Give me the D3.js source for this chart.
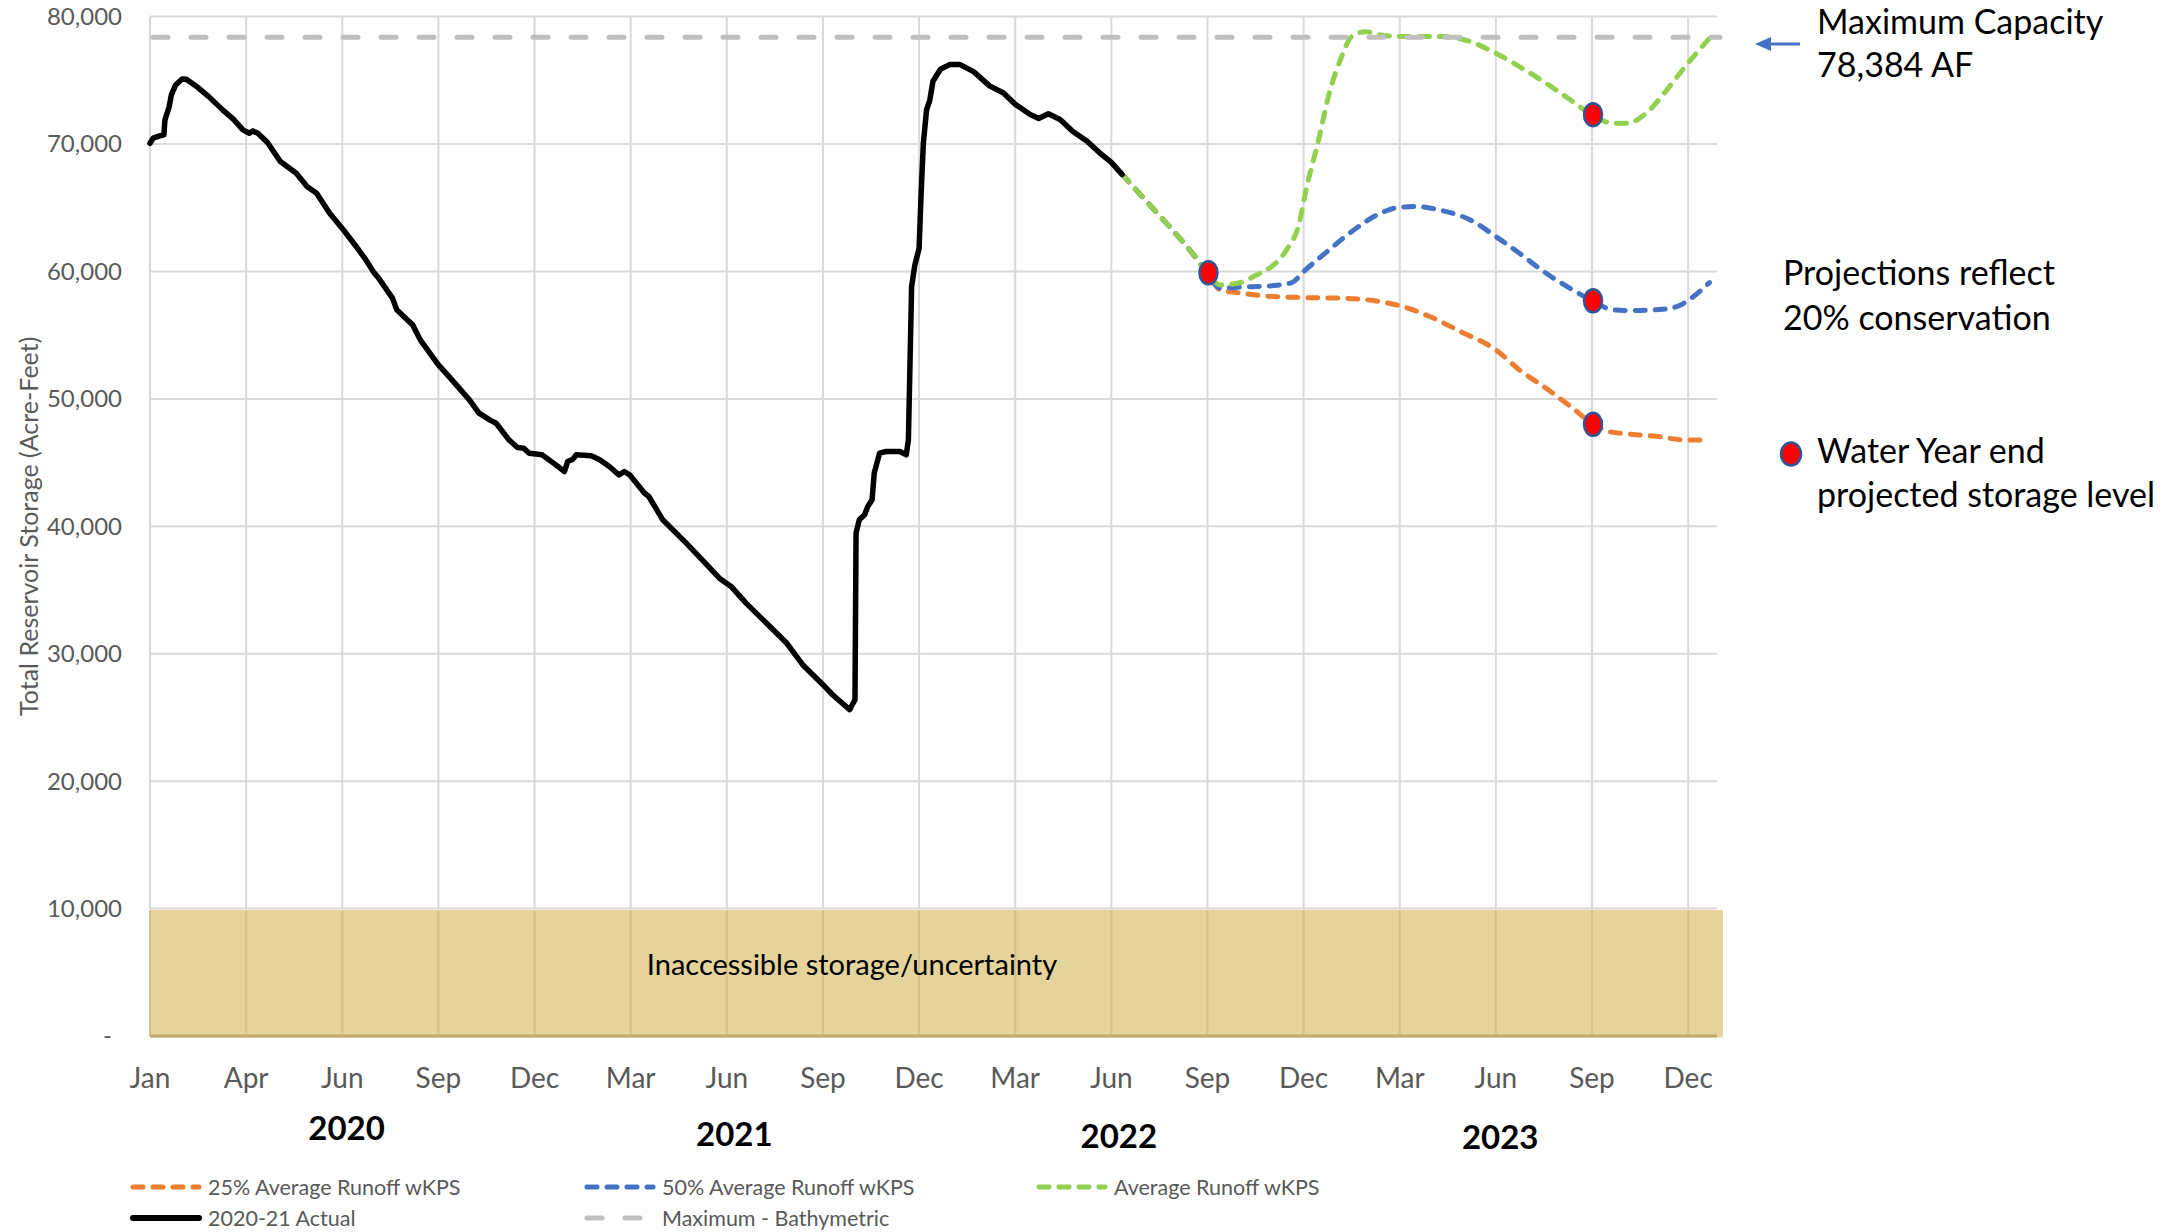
<!DOCTYPE html>
<html><head><meta charset="utf-8">
<script src="https://cdn.jsdelivr.net/npm/d3@7/dist/d3.min.js"></script>
<style>
html,body{margin:0;padding:0;background:#fff;}
svg{display:block;}
text{font-family:Lato,"Open Sans",sans-serif;}
</style></head><body>
<svg id="chart" width="2172" height="1232"></svg>
<script>
// ---------------- DATA ----------------
const axisStart = "2020-01-02";
const axisEnd = "2024-01-08";
const tickDates = ["2020-01-02","2020-04-01","2020-06-30","2020-09-28","2020-12-27","2021-03-27","2021-06-25",
  "2021-09-23","2021-12-22","2022-03-22","2022-06-20","2022-09-18","2022-12-17","2023-03-17","2023-06-15",
  "2023-09-13","2023-12-12"];
const yTicks = [0,10000,20000,30000,40000,50000,60000,70000,80000];
const yearLabels = ["2020","2021","2022","2023"];
const yearLabelDates = ["2020-07-04","2021-07-02","2022-06-27","2023-06-19"];

const actual = [
["2020-01-02",70060],["2020-01-05",70460],["2020-01-11",70640],["2020-01-15",70720],["2020-01-16",71900],
["2020-01-20",72940],["2020-01-22",73860],["2020-01-26",74640],["2020-02-01",75110],["2020-02-05",75080],
["2020-02-14",74560],["2020-02-26",73720],["2020-03-10",72680],["2020-03-20",71950],["2020-03-29",71110],
["2020-04-04",70850],["2020-04-07",71030],["2020-04-12",70850],["2020-04-21",70120],["2020-05-03",68630],
["2020-05-18",67710],["2020-05-28",66670],["2020-06-06",66140],["2020-06-18",64580],["2020-07-01",63270],
["2020-07-13",61960],["2020-07-22",60920],["2020-07-30",59870],["2020-08-03",59480],["2020-08-16",57910],
["2020-08-20",56990],["2020-09-04",55800],["2020-09-11",54630],["2020-09-28",52670],["2020-10-08",51750],
["2020-10-27",49920],["2020-11-05",48880],["2020-11-15",48350],["2020-11-21",48090],["2020-12-03",46780],
["2020-12-11",46180],["2020-12-17",46130],["2020-12-22",45740],["2021-01-03",45610],["2021-01-16",44820],
["2021-01-24",44300],["2021-01-27",45080],["2021-02-01",45270],["2021-02-04",45610],["2021-02-18",45530],
["2021-02-26",45220],["2021-03-07",44690],["2021-03-16",44040],["2021-03-21",44300],["2021-03-26",44040],
["2021-04-09",42600],["2021-04-13",42340],["2021-04-26",40510],["2021-05-18",38680],["2021-06-02",37370],
["2021-06-18",35930],["2021-06-29",35280],["2021-07-13",33970],["2021-08-01",32410],["2021-08-20",30840],
["2021-09-04",29140],["2021-09-23",27570],["2021-10-02",26780],["2021-10-18",25610],["2021-10-23",26390],
["2021-10-24",39460],["2021-10-27",40510],["2021-11-01",40900],["2021-11-04",41560],["2021-11-08",42080],
["2021-11-10",44170],["2021-11-15",45740],["2021-11-21",45870],["2021-12-04",45870],["2021-12-10",45610],
["2021-12-12",46780],["2021-12-15",58800],["2021-12-18",60490],["2021-12-22",61800],["2021-12-24",66300],
["2021-12-26",70060],["2021-12-29",72680],["2022-01-01",73430],["2022-01-04",74930],["2022-01-11",75870],
["2022-01-20",76250],["2022-01-29",76250],["2022-02-11",75680],["2022-02-26",74560],["2022-03-11",74000],
["2022-03-22",73130],["2022-04-05",72310],["2022-04-13",72010],["2022-04-22",72380],["2022-05-03",71930],
["2022-05-15",70990],["2022-05-28",70240],["2022-06-09",69310],["2022-06-20",68560],["2022-06-30",67620]
];

const proj25 = [
["2022-06-30",67620],["2022-07-16",66140],["2022-08-02",64570],["2022-08-19",63000],["2022-09-05",61300],
["2022-09-18",59860],["2022-09-30",58550],["2022-10-16",58340],["2022-11-11",58080],["2022-12-17",57950],
["2023-01-21",57900],["2023-02-27",57630],["2023-03-20",57240],["2023-04-14",56460],["2023-05-13",55280],
["2023-06-15",53840],["2023-07-07",52270],["2023-08-01",50830],["2023-08-26",49260],["2023-09-13",48090],
["2023-09-29",47430],["2023-10-20",47220],["2023-11-14",47040],["2023-12-09",46780],["2024-01-01",46780]
];
const proj50 = [
["2022-06-30",67620],["2022-07-16",66140],["2022-08-02",64570],["2022-08-19",63000],["2022-09-05",61300],
["2022-09-18",59860],["2022-09-30",58680],["2022-10-16",58760],["2022-11-19",58890],["2022-12-06",59130],
["2022-12-17",59990],["2023-01-08",61560],["2023-02-02",63260],["2023-02-27",64570],["2023-03-17",65040],
["2023-04-02",65090],["2023-04-23",64830],["2023-05-22",64040],["2023-06-15",62740],["2023-07-07",61430],
["2023-08-01",59860],["2023-08-26",58550],["2023-09-13",57710],["2023-10-03",56980],["2023-10-20",56930],
["2023-11-18",57030],["2023-12-05",57370],["2023-12-17",58030],["2024-01-01",59130]
];
const projAvg = [
["2022-06-30",67620],["2022-07-16",66140],["2022-08-02",64570],["2022-08-19",63000],["2022-09-05",61300],
["2022-09-18",59860],["2022-09-30",58940],["2022-10-16",59070],["2022-11-06",59860],["2022-11-19",60510],
["2022-12-02",61820],["2022-12-12",63520],["2022-12-20",66660],["2022-12-31",70320],["2023-01-10",73980],
["2023-01-21",76730],["2023-01-31",78430],["2023-02-13",78820],["2023-02-27",78560],["2023-03-17",78430],
["2023-04-27",78430],["2023-05-22",78040],["2023-06-15",77120],["2023-07-07",76080],["2023-08-01",74770],
["2023-08-26",73330],["2023-09-13",72280],["2023-10-03",71630],["2023-10-16",71630],["2023-11-06",72680],
["2023-11-22",74250],["2023-12-13",76470],["2024-01-01",78300]
];
const maxBathymetric = 78384;
const waterYearEnd = [["2022-09-18",59900],["2023-09-13",72300],["2023-09-13",57700],["2023-09-13",48000]];
const inaccessibleLevel = 10000;

const legendItems = ["25% Average Runoff wKPS","50% Average Runoff wKPS","Average Runoff wKPS","2020-21 Actual","Maximum - Bathymetric"];
const annotations = {
  capacity: ["Maximum Capacity","78,384 AF"],
  projections: ["Projections reflect","20% conservation"],
  waterYear: ["Water Year end","projected storage level"],
  band: "Inaccessible storage/uncertainty",
  yTitle: "Total Reservoir Storage (Acre-Feet)"
};

// ---------------- LAYOUT ----------------
const W = 2172, H = 1232;
const plot = {left:150, right:1717, top:16.6, bottom:1036};
const parse = d3.timeParse("%Y-%m-%d");
const C = {orange:"#ed7d31", blue:"#4472c4", green:"#92d050", black:"#000", gray:"#bfbfbf",
  grid:"#d9d9d9", label:"#595959", tan:"#e4d39a", tanEdge:"#c2aa6c"};

const svg = d3.select("#chart");
const x = d3.scaleTime().domain([parse(axisStart), parse(axisEnd)]).range([plot.left, plot.right]);
const y = d3.scaleLinear().domain([0, 80000]).range([plot.bottom, plot.top]);

// gridlines
const grid = svg.append("g");
grid.selectAll("line.h").data(yTicks.filter(v=>v>0)).join("line")
  .attr("x1", plot.left).attr("x2", plot.right).attr("y1", d=>y(d)).attr("y2", d=>y(d))
  .attr("stroke", C.grid).attr("stroke-width", 2);
grid.selectAll("line.v").data(tickDates).join("line")
  .attr("x1", d=>x(parse(d))).attr("x2", d=>x(parse(d))).attr("y1", plot.top).attr("y2", y(inaccessibleLevel))
  .attr("stroke", C.grid).attr("stroke-width", 2);

// inaccessible band
svg.append("rect").attr("x", plot.left).attr("y", y(inaccessibleLevel)+1.5)
  .attr("width", plot.right + 6 - plot.left).attr("height", y(0) - y(inaccessibleLevel))
  .attr("fill", C.tan);
svg.append("g").selectAll("line").data(tickDates).join("line")
  .attr("x1", d=>x(parse(d))).attr("x2", d=>x(parse(d))).attr("y1", y(inaccessibleLevel)+1.5).attr("y2", y(0))
  .attr("stroke", "#d4c188").attr("stroke-width", 2);
svg.append("line").attr("x1", plot.left).attr("x2", plot.right).attr("y1", y(0)).attr("y2", y(0))
  .attr("stroke", C.tanEdge).attr("stroke-width", 3);
svg.append("text").attr("x", 852).attr("y", 975).attr("text-anchor","middle")
  .attr("font-size", 29).attr("fill","#000").text(annotations.band);

// y axis labels
const fmt = d3.format(",");
svg.append("g").selectAll("text").data(yTicks).join("text")
  .attr("x", d => d === 0 ? 112 : 122).attr("y", d=>y(d)).attr("dy","0.35em")
  .attr("text-anchor","end").attr("font-size", 24).attr("fill", C.label)
  .text(d => d === 0 ? "-" : fmt(d));
svg.append("text").attr("transform", `translate(29,${(plot.top+plot.bottom)/2}) rotate(-90)`)
  .attr("text-anchor","middle").attr("dy","0.35em").attr("font-size", 25).attr("fill", C.label)
  .text(annotations.yTitle);

// x axis labels
const mfmt = d3.timeFormat("%b");
svg.append("g").selectAll("text").data(tickDates).join("text")
  .attr("x", d=>x(parse(d))).attr("y", 1088).attr("text-anchor","middle")
  .attr("font-size", 28).attr("fill", C.label).text(d=>mfmt(parse(d)));
const yearBaselines = [1140,1146,1148,1149];
svg.append("g").selectAll("text").data(yearLabels).join("text")
  .attr("x", (d,i)=>x(parse(yearLabelDates[i]))).attr("y", (d,i)=>yearBaselines[i])
  .attr("text-anchor","middle").attr("font-size", 33).attr("font-weight", 700).attr("fill","#000").text(d=>d);

// series
const line = d3.line().x(d=>x(parse(d[0]))).y(d=>y(d[1]));
const smooth = d3.line().x(d=>x(parse(d[0]))).y(d=>y(d[1])).curve(d3.curveMonotoneX);
const dashProj = "10,10";
const series = [
  {data:proj25, color:C.orange}, {data:proj50, color:C.blue}, {data:projAvg, color:C.green}
];
series.forEach(s => svg.append("path").attr("d", smooth(s.data)).attr("fill","none")
  .attr("stroke", s.color).attr("stroke-width", 5).attr("stroke-dasharray", dashProj)
  .attr("stroke-linecap","round"));
svg.append("path").attr("d", line(actual)).attr("fill","none").attr("stroke", C.black)
  .attr("stroke-width", 5.5).attr("stroke-linejoin","round").attr("stroke-linecap","round");
svg.append("path").attr("d", line([[axisStart, maxBathymetric],[axisEnd, maxBathymetric]]))
  .attr("fill","none").attr("stroke", C.gray).attr("stroke-width", 5)
  .attr("stroke-dasharray","15,23").attr("stroke-linecap","round").attr("transform","translate(3,0)");

// water-year-end markers
svg.append("g").selectAll("ellipse").data(waterYearEnd).join("ellipse")
  .attr("cx", d=>x(parse(d[0]))+1).attr("cy", d=>y(d[1])).attr("rx", 9).attr("ry", 11.5)
  .attr("fill", "#ff0000").attr("stroke", "#2f5597").attr("stroke-width", 2.5);

// legend
const legRows = [
  {i:0, x:131, y:1187, color:C.orange, dash:dashProj, w:5},
  {i:1, x:585, y:1187, color:C.blue, dash:dashProj, w:5},
  {i:2, x:1037, y:1187, color:C.green, dash:dashProj, w:5},
  {i:3, x:131, y:1218, color:C.black, dash:null, w:6},
  {i:4, x:585, y:1218, color:C.gray, dash:"15,23", w:5}
];
const lg = svg.append("g");
legRows.forEach(r => {
  lg.append("line").attr("x1", r.x+2).attr("x2", r.x+68).attr("y1", r.y).attr("y2", r.y)
    .attr("stroke", r.color).attr("stroke-width", r.w).attr("stroke-linecap","round")
    .attr("stroke-dasharray", r.dash);
  lg.append("text").attr("x", r.x+77).attr("y", r.y).attr("dy","0.35em")
    .attr("font-size", 21.5).attr("fill", C.label).text(legendItems[r.i]);
});

// right annotations
const ann = svg.append("g").attr("font-size", 34).attr("fill","#000");
ann.append("text").attr("x",1817).attr("y",34).text(annotations.capacity[0]);
ann.append("text").attr("x",1817).attr("y",77).text(annotations.capacity[1]);
ann.append("text").attr("x",1783).attr("y",285).text(annotations.projections[0]);
ann.append("text").attr("x",1783).attr("y",330).text(annotations.projections[1]);
ann.append("text").attr("x",1817).attr("y",463).text(annotations.waterYear[0]);
ann.append("text").attr("x",1817).attr("y",507).text(annotations.waterYear[1]);
svg.append("line").attr("x1",1800).attr("x2",1768).attr("y1",44).attr("y2",44)
  .attr("stroke", C.blue).attr("stroke-width",3);
svg.append("path").attr("d","M1755,44 L1771,37 L1771,51 Z").attr("fill", C.blue);
svg.append("ellipse").attr("cx",1791).attr("cy",454).attr("rx",10).attr("ry",11.5)
  .attr("fill","#ff0000").attr("stroke","#2f5597").attr("stroke-width",2.5);
</script>
</body></html>
